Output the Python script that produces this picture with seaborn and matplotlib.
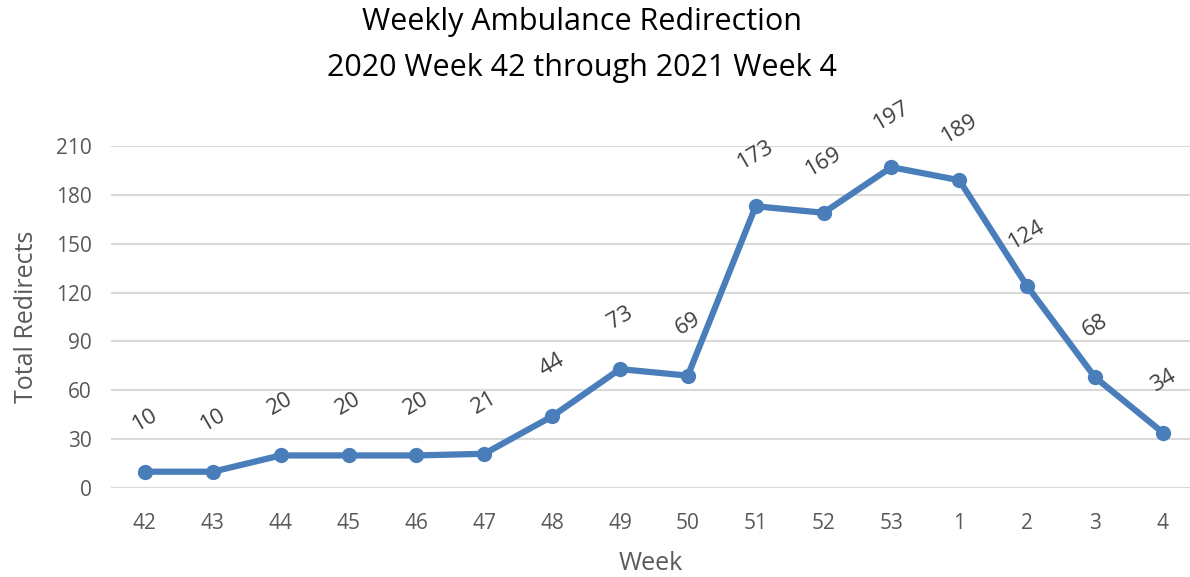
import matplotlib
matplotlib.use("Agg")
import matplotlib.pyplot as plt
import seaborn as sns
import pandas as pd

weeks = ["42", "43", "44", "45", "46", "47", "48", "49", "50", "51", "52", "53", "1", "2", "3", "4"]
redirects = [10, 10, 20, 20, 20, 21, 44, 73, 69, 173, 169, 197, 189, 124, 68, 34]

df = pd.DataFrame({"week": weeks, "redirects": redirects})
df["pos"] = range(len(df))

sns.set_theme(style="white")
plt.rcParams["font.family"] = ["Open Sans", "DejaVu Sans"]

line_color = "#4a7ebb"
text_color = "#595959"

fig = plt.figure(figsize=(11.9, 5.77), dpi=100)
ax = fig.add_axes([111 / 1190, 1 - 488 / 577, 1 - 111 / 1190, (488 - 146) / 577])

sns.lineplot(data=df, x="pos", y="redirects", ax=ax, color=line_color, linewidth=4.5,
             marker="o", markersize=11, markeredgewidth=0)

# rotated data labels above each point
for i, v in enumerate(redirects):
    ax.annotate(str(v), (i, v), xytext=(0, 37), textcoords="offset points",
                ha="center", va="center", rotation=30, fontsize=16, color="#404040")

ax.set_ylim(0, 210)
ax.set_yticks(range(0, 211, 30))
ax.set_xlim(-0.5, 15.4)
ax.set_xticks(range(len(weeks)))
ax.set_xticklabels(weeks)
ax.tick_params(axis="x", length=0, labelsize=15, labelcolor=text_color, pad=18)
ax.tick_params(axis="y", length=0, labelsize=15, labelcolor=text_color, pad=14)
ax.yaxis.grid(True, color="#d9d9d9", linewidth=1.5)
ax.set_axisbelow(True)
for s in ax.spines.values():
    s.set_visible(False)
ax.axhline(0, color="#d9d9d9", linewidth=1.5, zorder=0)

ax.set_xlabel("Week", fontsize=18, color=text_color, labelpad=12)
ax.set_ylabel("Total Redirects", fontsize=18, color=text_color, labelpad=12)

fig.text(582 / 1190, 1 - 22 / 577, "Weekly Ambulance Redirection", ha="center", va="center",
         fontsize=22, color="#000000")
fig.text(582 / 1190, 1 - 68 / 577, "2020 Week 42 through 2021 Week 4", ha="center", va="center",
         fontsize=22, color="#000000")

fig.savefig("out.png", dpi=100)
